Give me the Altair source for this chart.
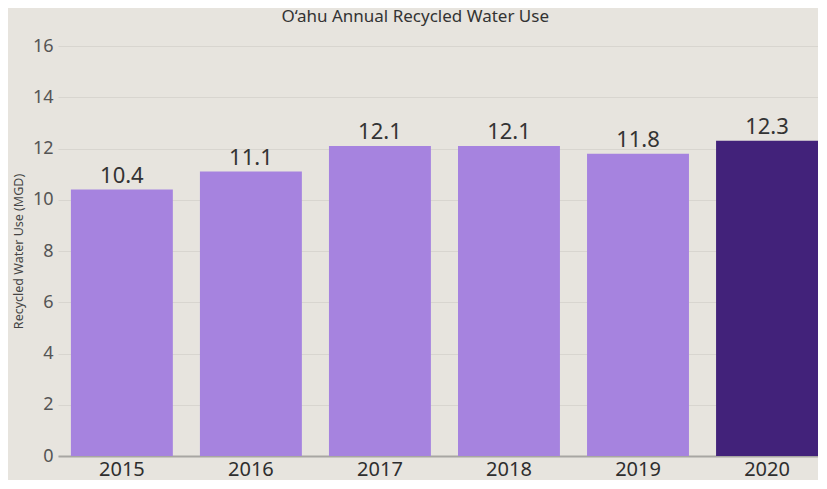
import altair as alt
import pandas as pd

years = ["2015", "2016", "2017", "2018", "2019", "2020"]
values = [10.4, 11.1, 12.1, 12.1, 11.8, 12.3]
highlight = ["no", "no", "no", "no", "no", "yes"]

df = pd.DataFrame({"year": years, "value": values, "hl": highlight})

FONT = "Noto Sans"

base = alt.Chart(df).encode(
    x=alt.X("year:N", title=None, sort=years,
            scale=alt.Scale(paddingInner=0.21, paddingOuter=0.05, align=1),
            axis=alt.Axis(labelAngle=0, labelFontSize=20, labelColor="#2e2e2e",
                          labelFont=FONT, ticks=False, domainColor="#a8a6a2",
                          domainWidth=2, labelPadding=3, grid=False)),
    y=alt.Y("value:Q", title="Recycled Water Use (MGD)",
            scale=alt.Scale(domain=[0, 16], nice=False),
            axis=alt.Axis(values=[0, 2, 4, 6, 8, 10, 12, 14, 16], ticks=False,
                          domain=False, labelFontSize=18, labelColor="#555555",
                          labelFont=FONT, labelPadding=5, gridColor="#d8d5cf",
                          titleFont=FONT, titleFontSize=12.5, titleFontWeight="normal",
                          titleColor="#444444", titlePadding=7)),
)

bars = base.mark_bar().encode(
    color=alt.Color("hl:N", scale=alt.Scale(domain=["no", "yes"],
                                           range=["#a683df", "#42227a"]),
                    legend=None)
)

labels = base.mark_text(baseline="alphabetic", dy=-7, fontSize=22, font=FONT,
                        color="#333333").encode(
    text=alt.Text("value:Q", format=".1f")
)

chart = (bars + labels).properties(
    width=760, height=410,
    background="#e7e4de",
    padding={"left": 4, "right": 0, "top": 0, "bottom": 1},
    title=alt.TitleParams("O\u2018ahu Annual Recycled Water Use", fontSize=17,
                          font=FONT, fontWeight="normal", color="#333333",
                          offset=11, anchor="middle", frame="bounds"),
).configure_view(stroke=None)

chart.save("out.html", embed_options={"renderer": "svg", "actions": False})
